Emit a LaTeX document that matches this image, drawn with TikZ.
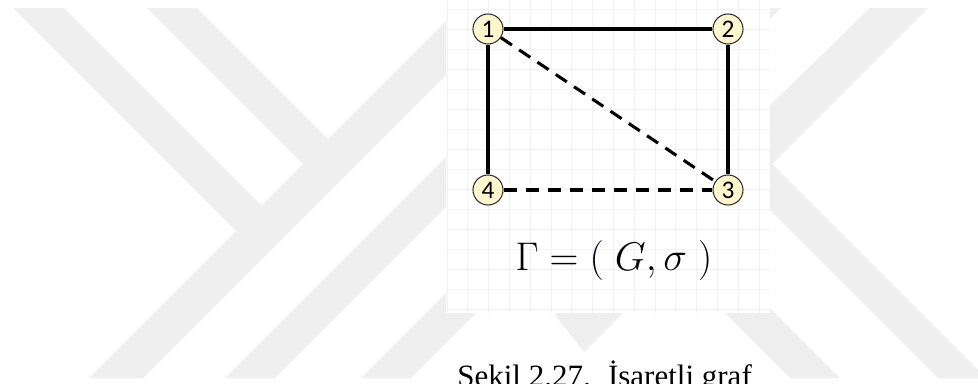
\RequirePackage{fix-cm}
\documentclass[tikz,border=0pt]{standalone}
\usepackage{fontspec}
\setmainfont{Liberation Serif}
\newfontfamily\nodefont{Carlito}
\definecolor{wm}{RGB}{239,239,239}
\definecolor{gridc}{RGB}{241,241,249}
\definecolor{nodefill}{RGB}{255,246,206}
\definecolor{nodeedge}{RGB}{50,50,50}
\begin{document}
\begin{tikzpicture}[x=0.75pt,y=-0.75pt,
  vtx/.style={circle,draw=nodeedge,line width=0.8pt,fill=nodefill,minimum size=22.5pt,inner sep=0pt,font=\nodefont\fontsize{19}{19}\selectfont},
  posedge/.style={line width=2.3pt,black},
  negedge/.style={line width=2.3pt,black,dash pattern=on 10pt off 6.5pt},
  band/.style={fill=wm,draw=none},
  gridline/.style={draw=gridc,line width=0.75pt}]
\useasboundingbox (0,0) rectangle (978,383);
\fill[white] (0,0) rectangle (978,383);
% watermark
\begin{scope}
\clip (0,8) rectangle (978,378);
\fill[band] (13,8) -- (64,8) -- (261.5,205.5) -- (236,231) -- cycle;
\fill[band] (147,8) -- (197,8) -- (328,139) -- (303,164) -- cycle;
\fill[band] (459,8) -- (513,8) -- (143,378) -- (89,378) -- cycle;
\fill[band] (595,8) -- (645,8) -- (275,378) -- (225,378) -- cycle;
\fill[band] (731,8) -- (781,8) -- (411,378) -- (361,378) -- cycle;
\fill[band] (870,8) -- (928,8) -- (584,352) -- (555,315) -- cycle;
\fill[band] (741.5,133.5) -- (717.5,157.5) -- (938,378) -- (986,378) -- cycle;
\fill[band] (625.5,163.5) -- (600.5,188.5) -- (790,378) -- (840,378) -- cycle;
\end{scope}
% panel
\fill[white] (446,0) rectangle (770,313);
\foreach \i in {0,...,15} \draw[gridline] ({447+20.8*\i},0) -- ({447+20.8*\i},313);
\foreach \j in {0,...,15} \draw[gridline] (446,{9+20*\j}) -- (770,{9+20*\j});
% graph
\node[vtx] (n1) at (488,29) {1};
\node[vtx] (n2) at (728,29) {2};
\node[vtx] (n3) at (728,190) {3};
\node[vtx] (n4) at (488,190) {4};
\draw[posedge] (n1) -- (n2);
\draw[posedge] (n2) -- (n3);
\draw[posedge] (n1) -- (n4);
\draw[negedge] (n1) -- (n3);
\draw[negedge] (n4) -- (n3);
\node[anchor=base,font=\fontsize{30}{34}\selectfont] (formula) at (614,270) {$\Gamma = (\;G,\sigma\;)$};
\node[anchor=base west,inner sep=0pt,font=\fontsize{23.25}{28}\selectfont] (caption) at (457,386) {Şekil 2.27.\hspace{13pt}İşaretli graf};
\end{tikzpicture}
\end{document}
